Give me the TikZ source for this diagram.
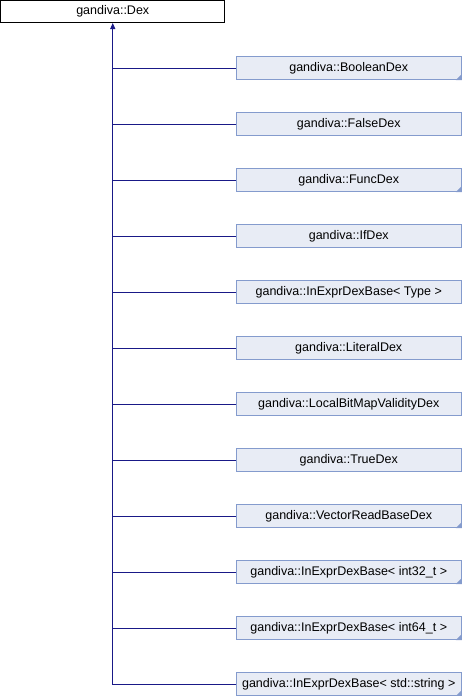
\documentclass[tikz,border=0pt]{standalone}
\usepackage{fontspec}
\setmainfont{Liberation Sans}
\usetikzlibrary{arrows.meta}

\definecolor{edgeblue}{RGB}{25,25,135}
\definecolor{boxline}{RGB}{132,155,205}
\definecolor{boxfill}{RGB}{232,236,245}

\tikzset{
  basebox/.style={draw=black, fill=white, line width=1pt, minimum width=224pt, minimum height=22pt,
    inner sep=0pt, font=\fontsize{12.5}{14}\selectfont},
  childbox/.style={draw=boxline, fill=boxfill, line width=1pt, minimum width=225pt, minimum height=23pt,
    inner sep=0pt, font=\fontsize{12.5}{14}\selectfont},
  edge/.style={draw=edgeblue, line width=1pt},
  corner/.style={fill=boxline}
}

\begin{document}
\begin{tikzpicture}[x=1pt,y=-1pt]
            \useasboundingbox (0,0) rectangle (462,696);

            % Base class
            \node[basebox] (dex) at (112.75,11.5) {gandiva::Dex};

            % Derived classes (name / label / has corner mark)
            \foreach \name/\txt/\mark [count=\i] in {
                booleandex/{gandiva::BooleanDex}/1,
                falsedex/{gandiva::FalseDex}/0,
                funcdex/{gandiva::FuncDex}/1,
                ifdex/{gandiva::IfDex}/0,
                inexprtype/{gandiva::InExprDexBase< Type >}/0,
                literaldex/{gandiva::LiteralDex}/0,
                localbitmap/{gandiva::LocalBitMapValidityDex}/0,
                truedex/{gandiva::TrueDex}/0,
                vectorread/{gandiva::VectorReadBaseDex}/1,
                inexprint32/{gandiva::InExprDexBase< int32\_t >}/1,
                inexprint64/{gandiva::InExprDexBase< int64\_t >}/1,
                inexprstring/{gandiva::InExprDexBase< std::string >}/1}{
                \node[childbox] (\name) at (348.75,68+56*\i-56) {\txt};
                \ifnum\mark=1
                    \fill[corner] (\name.south east) -- ++(-6,0) -- ++(6,-6) -- cycle;
                \fi
            }

            % Inheritance connectors
            \coordinate (bend) at (dex.south |- inexprstring.west);
            \draw[edge, {Triangle[length=6pt,width=5pt]}-] (dex.south) -- (bend) -- (inexprstring.west);
            \foreach \name in {booleandex,falsedex,funcdex,ifdex,inexprtype,literaldex,
                localbitmap,truedex,vectorread,inexprint32,inexprint64}
                \draw[edge] (dex.south |- \name.west) -- (\name.west);

\end{tikzpicture}
\end{document}
